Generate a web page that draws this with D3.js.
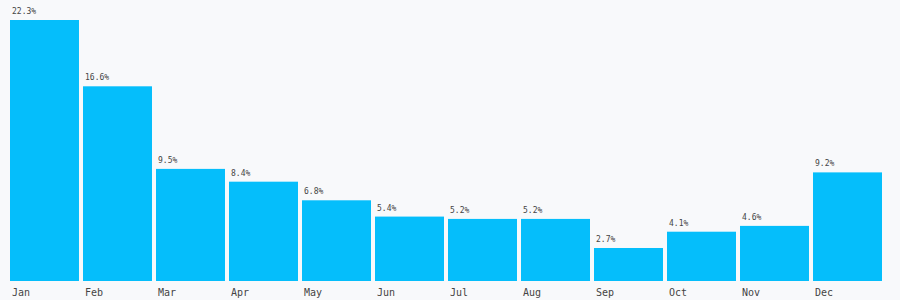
<!DOCTYPE html>
<html>
<head>
<meta charset="utf-8">
<script src="https://cdn.jsdelivr.net/npm/d3@7"></script>
<style>
  html, body { margin: 0; padding: 0; background: #f8f9fb; }
  svg { display: block; }
  text { font-family: 'DejaVu Sans Mono', monospace; fill: #444; }
</style>
</head>
<body>
<svg id="chart"></svg>
<script>
const months = ['Jan', 'Feb', 'Mar', 'Apr', 'May', 'Jun', 'Jul', 'Aug', 'Sep', 'Oct', 'Nov', 'Dec'];
const shares = [22.3, 16.6, 9.5, 8.4, 6.8, 5.4, 5.2, 5.2, 2.7, 4.1, 4.6, 9.2];

const width = 900;
const height = 300;
const padding = { top: 20, right: 18, bottom: 19, left: 10 };

const svg = d3.select('#chart').attr('width', width).attr('height', height);

const data = months.map((m, i) => ({ month: m, value: shares[i] }));

//SCALES
const xScale = d3
  .scaleBand()
  .domain(months)
  .range([padding.left, width - padding.right])
  .paddingInner(0.055)
  .paddingOuter(0);

const base = height - padding.bottom;

const yScale = d3
  .scaleLinear()
  .domain([0, d3.max(shares)])
  .range([base - 1.6, padding.top]);

//BARS
svg
  .selectAll('.bar')
  .data(data)
  .enter()
  .append('rect')
  .classed('bar', true)
  .attr('x', (d) => xScale(d.month))
  .attr('y', (d) => yScale(d.value))
  .attr('width', xScale.bandwidth())
  .attr('height', (d) => base - yScale(d.value))
  .attr('fill', '#05befb');

//VALUE LABELS
svg
  .selectAll('.value')
  .data(data)
  .enter()
  .append('text')
  .classed('value', true)
  .attr('x', (d) => xScale(d.month) + 2)
  .attr('y', (d) => yScale(d.value) - 6)
  .style('font-size', '8px')
  .text((d) => d.value.toFixed(1) + '%');

//MONTH LABELS
svg
  .selectAll('.month')
  .data(data)
  .enter()
  .append('text')
  .classed('month', true)
  .attr('x', (d) => xScale(d.month) + 2)
  .attr('y', base + 15)
  .style('font-size', '10px')
  .text((d) => d.month);
</script>
</body>
</html>
